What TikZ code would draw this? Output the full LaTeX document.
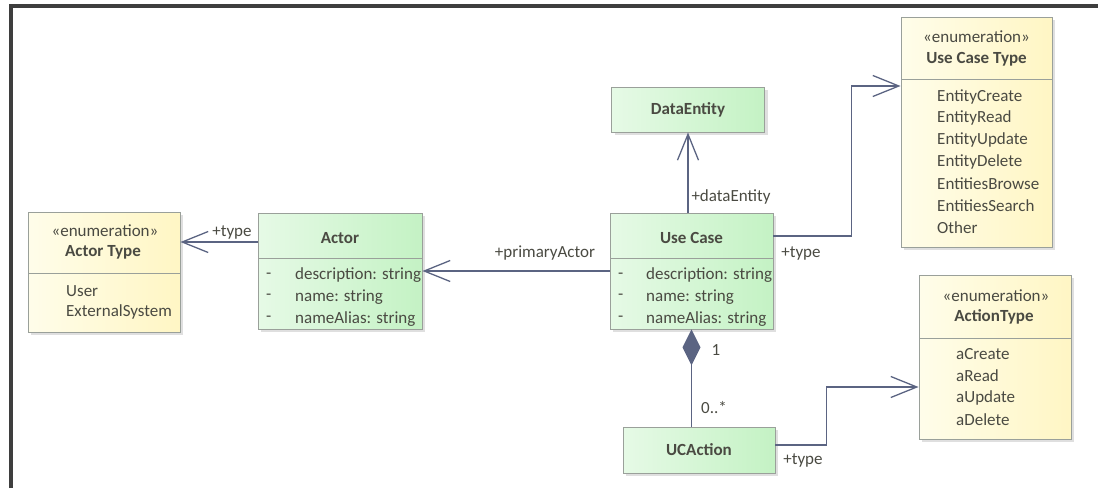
\documentclass[tikz,border=0pt]{standalone}
\usepackage{fontspec}
\setmainfont{Carlito}
\usetikzlibrary{arrows.meta,shadows}
\definecolor{framegray}{HTML}{3E3E3E}
\definecolor{boxline}{HTML}{9AA09A}
\definecolor{txt}{HTML}{4A4A42}
\definecolor{conn}{HTML}{5B6482}
\definecolor{greenA}{HTML}{C4F2C4}
\definecolor{greenB}{HTML}{E6FAE6}
\definecolor{yellowA}{HTML}{FFF6C4}
\definecolor{yellowB}{HTML}{FFFDEA}
\tikzset{
  boxbase/.style={draw=boxline, line width=0.9pt, inner sep=0pt,
    drop shadow={shadow xshift=3pt, shadow yshift=-3pt, opacity=0.25, fill=gray}},
  classbox/.style={boxbase, left color=greenB, right color=greenA},
  enumbox/.style={boxbase, left color=yellowB, right color=yellowA},
  sepline/.style={draw=boxline, line width=0.9pt},
  lbl/.style={text=txt, font=\fontsize{17}{20}\selectfont, inner sep=0pt},
  title/.style={lbl, font=\fontsize{17}{20}\selectfont\bfseries},
  item/.style={lbl, anchor=west},
  assoc/.style={draw=conn, line width=1.3pt,
    -{Straight Barb[length=26pt, width=21pt, line width=1.3pt]}},
  comp/.style={draw=conn, line width=1.3pt,
    {Diamond[length=36pt, width=18pt, fill=conn]}-},
}
\begin{document}
\begin{tikzpicture}[x=1pt, y=-1pt]
\useasboundingbox (0,0) rectangle (1098,488);
% outer frame (top and left edges)
\draw[framegray, line width=4pt] (11,488) -- (11,6) -- (1098,6);

% ---- boxes ----
\node[enumbox, minimum width=152pt, minimum height=120pt] (actortype) at (104,272) {};
\node[classbox, minimum width=164pt, minimum height=116pt] (actor) at (340,271) {};
\node[classbox, minimum width=163pt, minimum height=116pt] (usecase) at (691.5,271) {};
\node[classbox, minimum width=153pt, minimum height=45pt] (dataentity) at (688,109.5) {};
\node[classbox, minimum width=152pt, minimum height=46pt] (ucaction) at (699,450) {};
\node[enumbox, minimum width=151pt, minimum height=230pt] (uctype) at (976.5,132) {};
\node[enumbox, minimum width=152pt, minimum height=164pt] (actiontype) at (995,357) {};

% compartment separators
\draw[sepline] (28,273) -- (180,273);
\draw[sepline] (258,258) -- (422,258);
\draw[sepline] (610,258) -- (773,258);
\draw[sepline] (901,79) -- (1052,79);
\draw[sepline] (919,338) -- (1071,338);

% ---- Actor Type ----
\node[lbl] (atst) at (105,231) {«enumeration»};
\node[title] (atname) at (103,252) {Actor Type};
\node[item] (at1) at (66,291) {User};
\node[item] (at2) at (66,312) {ExternalSystem};

% ---- Actor ----
\node[title] (acname) at (340,238) {Actor};
\node[item] (acd1) at (266,276) {-};
\node[item] (acd2) at (266,297) {-};
\node[item] (acd3) at (266,319) {-};
\node[item] (aca1) at (295,275) {description: string};
\node[item] (aca2) at (295,297) {name: string};
\node[item] (aca3) at (295,319) {nameAlias: string};

% ---- Use Case ----
\node[title] (ucname) at (691.5,238) {Use Case};
\node[item] (ucd1) at (618,276) {-};
\node[item] (ucd2) at (618,297) {-};
\node[item] (ucd3) at (618,319) {-};
\node[item] (uca1) at (646,275) {description: string};
\node[item] (uca2) at (646,297) {name: string};
\node[item] (uca3) at (646,319) {nameAlias: string};

% ---- DataEntity / UCAction ----
\node[title] (dename) at (dataentity) {DataEntity};
\node[title] (uaname) at (ucaction) {UCAction};

% ---- Use Case Type ----
\node[lbl] (utst) at (976.5,37) {«enumeration»};
\node[title] (utname) at (976.5,59) {Use Case Type};
\node[item] (ut1) at (937,97) {EntityCreate};
\node[item] (ut2) at (937,118) {EntityRead};
\node[item] (ut3) at (937,140) {EntityUpdate};
\node[item] (ut4) at (937,162) {EntityDelete};
\node[item] (ut5) at (937,184) {EntitiesBrowse};
\node[item] (ut6) at (937,206) {EntitiesSearch};
\node[item] (ut7) at (937,228) {Other};

% ---- ActionType ----
\node[lbl] (axst) at (996,296) {«enumeration»};
\node[title] (axname) at (994,317) {ActionType};
\node[item] (ax1) at (956,354) {aCreate};
\node[item] (ax2) at (956,376) {aRead};
\node[item] (ax3) at (956,398) {aUpdate};
\node[item] (ax4) at (956,420) {aDelete};

% ---- connectors ----
\draw[assoc] ([yshift=29pt]actor.west) -- ([yshift=29pt]actor.west -| actortype.east);
\draw[assoc] (usecase.west) -- (usecase.west -| actor.east);
\draw[assoc] (usecase.north -| dataentity.south) -- (dataentity.south);
\draw[assoc] ([yshift=35pt]usecase.east) -| ([xshift=-49pt,yshift=46pt]uctype.west) -- ([yshift=46pt]uctype.west);
\draw[assoc] ([yshift=5pt]ucaction.east) -| ([xshift=-92pt,yshift=-30pt]actiontype.west) -- ([yshift=-30pt]actiontype.west);
\draw[comp] (usecase.south) -- (usecase.south |- ucaction.north);

% role and multiplicity labels
\node[lbl] (r1) at (232,232) {+type};
\node[lbl] (r2) at (545,253) {+primaryActor};
\node[lbl] (r3) at (731,197) {+dataEntity};
\node[lbl] (r4) at (801,253) {+type};
\node[lbl] (r5) at (716,350) {1};
\node[lbl] (r6) at (714,408) {0..*};
\node[lbl] (r7) at (803,460) {+type};
\end{tikzpicture}
\end{document}
